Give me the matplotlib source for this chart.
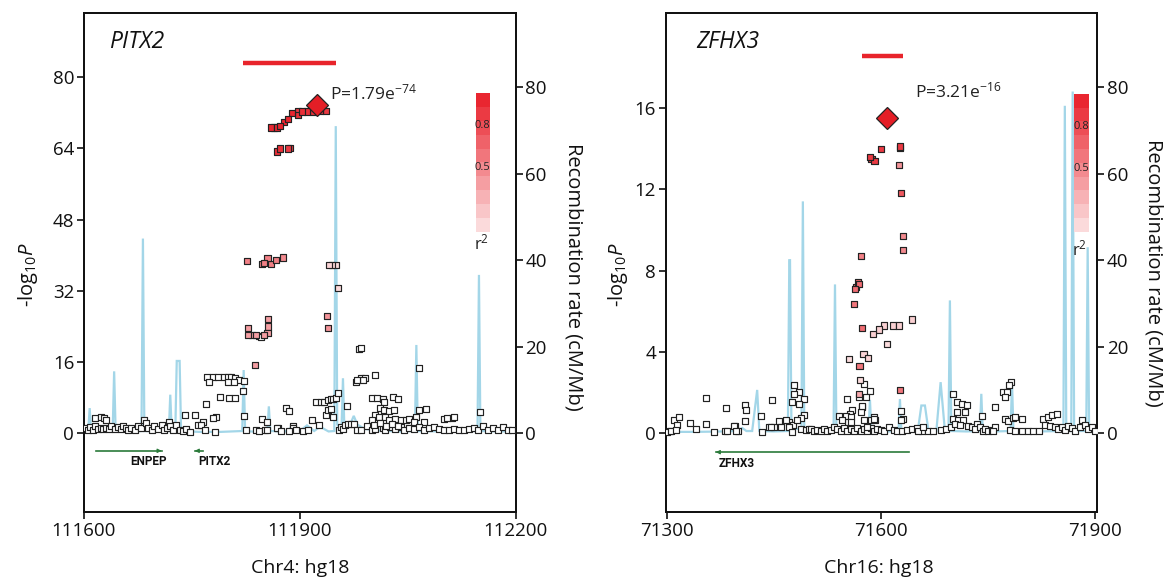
import matplotlib
matplotlib.use('Agg')
import matplotlib.pyplot as plt
import numpy as np

plt.rcParams['font.family'] = ['Open Sans', 'DejaVu Sans']
plt.rcParams['mathtext.fontset'] = 'custom'
plt.rcParams['mathtext.rm'] = 'Open Sans'
plt.rcParams['mathtext.it'] = 'Open Sans:italic'

# ---------------- PITX2 panel (Chr4, kb) ----------------
pitx2_ld_pos = [111860, 111864, 111868, 111873, 111878, 111884, 111889, 111897, 111897, 111903, 111910,
                111918, 111928, 111936,
                111868, 111873, 111884, 111886,
                111827, 111847, 111850, 111855, 111860, 111867, 111877,
                111941, 111945, 111950, 111953,
                111828, 111828, 111834, 111839, 111850, 111855, 111856, 111856, 111838,
                111938, 111939]
pitx2_ld_logp = [68.7, 68.7, 68.7, 69.0, 69.9, 70.6, 72.0, 71.6, 72.4, 72.3, 72.3,
                 72.3, 72.4, 72.4,
                 63.3, 64.0, 64.0, 64.1,
                 38.7, 38.05, 38.3, 39.3, 38.0, 39.0, 39.5,
                 37.8, 37.8, 37.8, 32.7,
                 23.7, 22.1, 22.1, 22.1, 22.1, 22.5, 24.0, 25.7, 15.4,
                 26.4, 23.6]
pitx2_ld_r2 = [0.95, 0.95, 0.95, 0.95, 0.95, 0.95, 0.95, 0.9, 0.85, 0.9, 0.9,
               0.9, 0.9, 0.85,
               0.9, 0.9, 0.85, 0.85,
               0.5, 0.5, 0.5, 0.5, 0.5, 0.5, 0.45,
               0.08, 0.08, 0.05, 0.05,
               0.35, 0.35, 0.35, 0.35, 0.35, 0.35, 0.35, 0.35, 0.35,
               0.4, 0.4]

pitx2_low_pos = [111982, 111985, 112066, 111771, 111779, 111787, 111795, 111800, 111805, 111810, 111816,
                 111823, 111774, 111800, 111808, 111789, 111802, 111810, 111821, 111770, 111784, 111780,
                 111740, 111754, 111766, 111823, 111847, 111855, 111881, 111885, 111891, 111870, 111917,
                 111844, 111846,
                 111923, 111929, 111934, 111939, 111943, 111946, 111951, 111953, 111936, 111939, 111944,
                 111946, 111965, 111978, 111985, 111990, 111988, 112005, 111979,
                 112001, 112008, 112015, 112017, 112029, 112036, 112012, 112017, 112024, 112031, 112005,
                 112010, 112019, 112001, 112024, 112033, 112040, 112047, 112052, 112061, 112066, 112075,
                 112059, 112073, 112100, 112112, 112151,
                 111616, 111624, 111628, 111631,
                 111601, 111606, 111609, 111613, 111616, 111620, 111624, 111627, 111631, 111635, 111638,
                 111643, 111647, 111651, 111654, 111658, 111661, 111666, 111671, 111675, 111680, 111684,
                 111686, 111689, 111694, 111698, 111703, 111708, 111711, 111715, 111718, 111720, 111724,
                 111728, 111733, 111738, 111742, 111747, 111759, 111763, 111768, 111782,
                 111825, 111839, 111844, 111851, 111855, 111869, 111874, 111890, 111927, 111955, 111957,
                 111960, 111963, 111967, 111971, 111976, 111980, 111985, 111994, 111885, 111895, 111905,
                 111912,
                 112001, 112005, 112015, 112019, 112026, 112033, 112040, 112045, 112052, 112059, 112066,
                 112073, 112080, 112087, 112094, 112100, 112107, 112114, 112121, 112128, 112135, 112142,
                 112147, 112154, 112161, 112168, 112175, 112182, 112189, 112195,
                 112003, 112012, 112020, 112028, 112037, 112104, 112114]
pitx2_low_logp = [19.0, 19.2, 14.6, 12.6, 12.6, 12.6, 12.6, 12.6, 12.6, 12.3, 12.0,
                  11.8, 11.4, 11.4, 11.6, 8.2, 7.9, 7.9, 9.5, 6.5, 3.7, 3.4,
                  4.1, 4.1, 2.6, 3.9, 3.1, 2.4, 5.6, 4.9, 1.5, 1.1, 3.0,
                  21.8, 21.6,
                  6.9, 6.9, 7.1, 7.5, 7.7, 7.7, 7.9, 9.0, 4.1, 5.2, 5.4,
                  3.7, 6.2, 11.6, 12.4, 12.4, 12.0, 13.1, 12.0,
                  7.9, 7.9, 7.6, 7.1, 8.2, 7.6, 5.6, 5.2, 4.9, 5.2, 4.1,
                  3.7, 3.6, 3.0, 3.0, 3.1, 3.0, 3.0, 3.1, 3.6, 5.2, 5.5,
                  2.6, 2.6, 3.1, 3.5, 4.7,
                  3.4, 3.6, 3.4, 3.0,
                  1.1, 0.75, 1.35, 0.75, 1.5, 0.9, 1.1, 0.97, 1.27, 0.9, 1.5,
                  0.97, 1.35, 0.9, 1.5, 1.1, 0.75, 1.1, 0.75, 1.5, 1.1, 3.0,
                  2.25, 1.1, 0.75, 1.5, 0.97, 1.87, 0.75, 1.1, 2.6, 1.5, 0.75,
                  1.87, 0.75, 0.52, 0.9, 0.37, 1.87, 1.87, 0.75, 0.37,
                  0.75, 0.75, 0.52, 0.75, 0.75, 1.12, 0.52, 1.27, 1.87, 0.75, 1.35,
                  0.9, 1.87, 2.1, 2.1, 2.1, 0.75, 0.75, 1.5, 0.5, 0.6, 0.4,
                  0.8,
                  0.75, 0.9, 1.1, 0.75, 1.35, 0.9, 1.35, 0.75, 1.1, 0.9, 1.35,
                  0.75, 1.1, 1.35, 0.9, 0.75, 0.6, 0.9, 0.75, 0.6, 0.9, 1.1,
                  0.75, 1.5, 0.75, 1.1, 0.75, 1.35, 0.75, 0.75,
                  1.8, 2.2, 1.6, 2.0, 1.7, 3.4, 3.6]

pitx2_lead_pos = 111924
pitx2_lead_logp = 73.75
pitx2_lead_label = 'P=1.79e$^{\\mathrm{-74}}$'

pitx2_recomb_pos = [111600, 111606, 111608, 111610, 111640, 111642, 111644, 111660, 111680, 111682, 111684,
                    111700, 111718, 111720, 111722, 111727, 111729, 111733, 111735, 111760, 111790,
                    111820, 111822, 111824, 111840, 111855, 111857, 111859, 111880, 111890, 111900,
                    111910, 111920, 111928, 111940, 111948, 111950, 111952, 111958, 111960, 111962,
                    111970, 111975, 111980, 111990, 112010, 112040, 112060, 112062, 112064, 112100,
                    112147, 112149, 112151, 112180, 112200]
pitx2_recomb_rate = [0.5, 0.5, 5.8, 0.5, 0.8, 14.3, 0.8, 0.3, 0.5, 45.0, 0.5,
                     0.5, 0.5, 8.9, 0.5, 0.5, 16.7, 16.7, 0.5, 0.3, 0.3,
                     0.5, 14.6, 0.5, 0.3, 0.5, 6.2, 0.5, 0.4, 1.5, 0.5,
                     1.8, 0.5, 1.5, 0.4, 0.5, 71.0, 2.0, 1.0, 12.7, 1.0,
                     2.0, 4.0, 2.0, 1.0, 0.6, 0.4, 0.5, 20.4, 0.5, 0.4,
                     0.5, 36.6, 0.5, 0.4, 0.5]

pitx2_bar = (111821, 111951, 83.3)
pitx2_genes = [('ENPEP', 111617, 111708, 1, 111690), ('PITX2', 111754, 111765, -1, 111781)]

# ---------------- ZFHX3 panel (Chr16, kb) ----------------
zfhx3_ld_pos = [71600.0, 71584.6, 71587.2, 71591.3, 71626.8, 71626.8, 71625.8, 71628.4, 71630.9, 71630.9,
                71571.9, 71568.3, 71569.3, 71565.2, 71564.2, 71562.6, 71574.4, 71570.3, 71627.3,
                71569.3, 71589.8, 71597.5, 71605.2, 71617.0, 71625.8, 71643.7, 71609.3, 71555.4,
                71575.9, 71582.1, 71570.8]
zfhx3_ld_logp = [14.0, 13.6, 13.5, 13.4, 14.1, 14.05, 13.2, 11.8, 9.7, 9.0,
                 8.7, 7.45, 7.33, 7.2, 7.1, 6.34, 5.19, 3.3, 2.13,
                 1.94, 4.9, 5.1, 5.3, 5.3, 5.3, 5.6, 4.4, 3.66,
                 3.9, 3.7, 2.6]
zfhx3_ld_r2 = [0.85, 0.85, 0.85, 0.85, 0.85, 0.85, 0.4, 0.7, 0.45, 0.45,
               0.5, 0.6, 0.6, 0.6, 0.6, 0.55, 0.6, 0.55, 0.55,
               0.3, 0.1, 0.1, 0.1, 0.1, 0.1, 0.1, 0.04, 0.04,
               0.08, 0.08, 0.04]

zfhx3_low_pos = [71355, 71311, 71318, 71314, 71305, 71333, 71341, 71356, 71384, 71410, 71412, 71410,
                 71433, 71396, 71400, 71448, 71478, 71486, 71479, 71492, 71476, 71485, 71493, 71489,
                 71459, 71472, 71477, 71444, 71451,
                 71301, 71306, 71313, 71366, 71382, 71385, 71394, 71398, 71434, 71446, 71458, 71460,
                 71467, 71471, 71476, 71483, 71488, 71495, 71500,
                 71574, 71573, 71560, 71557, 71551, 71559, 71554, 71628, 71631, 71590, 71592, 71584.6,
                 71576.9, 71569.3, 71552.9, 71580,
                 71502, 71506, 71511, 71516, 71520, 71525, 71530, 71534, 71539, 71544, 71548, 71553,
                 71558, 71562, 71567, 71572, 71576, 71581, 71586, 71590, 71595, 71600, 71604, 71611,
                 71618, 71623, 71630, 71637, 71644, 71651, 71658, 71667, 71674, 71684, 71691, 71698,
                 71541, 71546, 71558, 71574, 71576, 71581, 71586, 71590, 71653, 71660, 71629,
                 71702, 71707, 71714, 71721, 71718, 71707, 71702, 71709, 71716, 71704, 71711, 71723,
                 71728, 71735, 71732, 71739, 71744, 71746, 71751, 71756, 71760, 71758, 71760, 71742,
                 71772, 71777, 71774, 71783, 71780, 71774, 71779, 71786, 71788, 71798, 71781, 71788,
                 71798, 71807, 71814, 71822, 71828, 71835, 71840, 71847, 71830, 71837, 71844, 71849,
                 71854, 71858, 71863, 71868, 71872, 71879, 71882, 71886, 71891, 71896, 71900]
zfhx3_low_logp = [1.74, 0.66, 0.82, 0.43, 0.1, 0.49, 0.21, 0.46, 1.25, 1.41, 1.12, 0.62,
                  0.87, 0.34, 0.1, 1.64, 2.38, 2.05, 1.94, 1.69, 1.52, 1.44, 0.9, 0.76,
                  0.54, 0.54, 0.43, 0.3, 0.3,
                  0.08, 0.13, 0.17, 0.05, 0.1, 0.13, 0.38, 0.1, 0.05, 0.3, 0.59, 0.3,
                  0.66, 0.3, 0.05, 0.63, 0.22, 0.17, 0.22,
                  1.28, 1.03, 1.12, 0.95, 0.87, 0.79, 0.54, 1.07, 0.71, 0.79, 0.66, 2.1,
                  2.4, 1.8, 1.66, 1.77,
                  0.22, 0.13, 0.17, 0.1, 0.22, 0.13, 0.17, 0.3, 0.22, 0.13, 0.26, 0.13,
                  0.22, 0.13, 0.26, 0.13, 0.22, 0.13, 0.26, 0.1, 0.22, 0.17, 0.13, 0.3,
                  0.17, 0.1, 0.13, 0.17, 0.22, 0.26, 0.1, 0.13, 0.1, 0.17, 0.22, 0.3,
                  0.87, 0.63, 0.54, 1.36, 0.63, 0.3, 0.63, 0.71, 0.13, 0.3, 0.66,
                  1.94, 1.53, 1.45, 1.41, 1.04, 1.04, 0.71, 0.66, 0.63, 0.46, 0.43, 0.38,
                  0.3, 0.46, 0.22, 0.3, 0.13, 0.22, 0.13, 0.17, 0.3, 0.13, 1.31, 0.87,
                  2.02, 2.02, 1.77, 2.51, 2.35, 0.71, 0.59, 0.76, 0.79, 0.71, 0.17, 0.13,
                  0.1, 0.1, 0.13, 0.1, 0.71, 0.82, 0.92, 0.95, 0.43, 0.38, 0.3, 0.22,
                  0.3, 0.17, 0.38, 0.26, 0.13, 0.3, 0.66, 0.43, 0.22, 0.3, 0.13]

zfhx3_lead_pos = 71608.7
zfhx3_lead_logp = 15.49
zfhx3_lead_label = 'P=3.21e$^{\\mathrm{-16}}$'

zfhx3_recomb_pos = [71300, 71340, 71380, 71400, 71406, 71412, 71420, 71427, 71430, 71450, 71470, 71472,
                    71473, 71475, 71489, 71491, 71493, 71510, 71534, 71536, 71538, 71560, 71583, 71585,
                    71587, 71610, 71625, 71627, 71629, 71645, 71652, 71657, 71662, 71667, 71678, 71684,
                    71690, 71695, 71697, 71699, 71720, 71739, 71741, 71743, 71760, 71782, 71784, 71786,
                    71820, 71856, 71858, 71860, 71867, 71869, 71871, 71888, 71890, 71892, 71900]
zfhx3_recomb_rate = [0.3, 0.3, 0.4, 0.5, 1.2, 0.5, 0.5, 10.0, 0.5, 0.4, 0.5, 40.0,
                     40.0, 1.0, 1.0, 53.6, 1.0, 0.5, 0.5, 34.4, 0.5, 0.4, 0.5, 7.7,
                     0.5, 0.4, 0.5, 7.9, 0.5, 0.4, 0.5, 6.4, 6.4, 0.5, 0.5, 11.8,
                     0.5, 0.5, 30.7, 0.5, 0.4, 0.5, 9.1, 0.5, 0.4, 0.5, 11.8, 0.5,
                     0.4, 0.5, 75.7, 0.5, 0.5, 79.0, 0.5, 0.5, 43.0, 0.5, 0.5]

zfhx3_bar = (71574, 71631, 18.57)
zfhx3_genes = [('ZFHX3', 71369, 71640, -1, 71373)]

LD_RED = np.array([0.91, 0.11, 0.15])
LINE_BLUE = '#a3d6e8'
GENE_GREEN = '#2b7a3b'


def ld_color(r2):
    a = 0.12 + 0.88 * r2
    return tuple(1 - a * (1 - LD_RED))


def draw_panel(ax, cfg):
    ax2 = ax.twinx()
    ax.set_zorder(ax2.get_zorder() + 1)
    ax.patch.set_visible(False)
    ax2.plot(cfg['rpos'], cfg['rrate'], color=LINE_BLUE, lw=1.6, solid_joinstyle='miter')
    ax2.set_ylim(-18.3, 97.1)
    ax2.set_yticks([0, 20, 40, 60, 80])

    ax.scatter(cfg['lowpos'], cfg['lowlogp'], marker='s', s=24, facecolor='white',
               edgecolor='#222222', linewidth=0.85, zorder=3)
    cols = [ld_color(r) for r in cfg['ldr2']]
    order = np.argsort(cfg['ldr2'])
    ax.scatter(np.array(cfg['ldpos'])[order], np.array(cfg['ldlogp'])[order], marker='s', s=20,
               facecolor=[cols[i] for i in order], edgecolor='#222222', linewidth=0.85, zorder=4)
    ax.plot([cfg['leadpos']], [cfg['leadlogp']], marker='D', ms=11, mfc='#e41e26',
            mec='#222222', mew=0.9, zorder=5)
    ax.text(cfg['ptext'][0], cfg['ptext'][1], cfg['leadlabel'], fontsize=12.5,
            ha='left', va='center', color='#222222')
    b0, b1, by = cfg['bar']
    ax.plot([b0, b1], [by, by], color='#e8242b', lw=3.2, solid_capstyle='butt')

    for name, g0, g1, strand, lx in cfg['genes']:
        ax.plot([g0, g1], [cfg['geney'], cfg['geney']], color=GENE_GREEN, lw=1.2)
        tip = g1 if strand > 0 else g0
        tail = tip - strand * 4
        ax.annotate('', xy=(tip, cfg['geney']), xytext=(tail, cfg['geney']),
                    arrowprops=dict(arrowstyle='-|>', color=GENE_GREEN, lw=0.8,
                                    mutation_scale=6, shrinkA=0, shrinkB=0))
        ax.text(lx, cfg['labely'], name, fontsize=8.5, fontweight='bold', family='Roboto',
                ha=cfg['gene_ha'], va='center', color='#111111')

    ax.text(cfg['titlex'], 0.9425, cfg['title'], transform=ax.transAxes, fontsize=16.5,
            style='italic', ha='left', va='center', color='#111111')

    ax.set_xlim(*cfg['xlim'])
    ax.set_ylim(*cfg['ylim'])
    ax.set_xticks(cfg['xticks'])
    ax.set_xticklabels([str(t) for t in cfg['xticks']])
    ax.set_yticks(cfg['yticks'])

    for a in (ax, ax2):
        for s in a.spines.values():
            s.set_linewidth(1.3)
            s.set_color('#111111')
        a.tick_params(direction='out', length=5, width=1.2, labelsize=13.5, colors='#111111',
                      pad=2)

    # r^2 colour key
    cax = ax.inset_axes(cfg['cbar'])
    steps = np.linspace(0.05, 0.95, 10)
    for i, r in enumerate(steps):
        cax.add_patch(plt.Rectangle((0, i / 10), 1, 0.1, facecolor=ld_color(r), edgecolor='none'))
    cax.set_xlim(0, 1)
    cax.set_ylim(0, 1)
    cax.axis('off')
    cax.text(0.45, 0.764, '0.8', fontsize=8, ha='center', va='center', color='#222222')
    cax.text(0.45, 0.462, '0.5', fontsize=8, ha='center', va='center', color='#222222')
    ax.text(cfg['r2pos'][0], cfg['r2pos'][1], 'r$^{2}$', transform=ax.transAxes, fontsize=12,
            ha='center', va='center', color='#222222')
    return ax2


fig = plt.figure(figsize=(11.64, 5.81), dpi=100)
axL = fig.add_axes([0.0721, 0.1182, 0.3709, 0.859])
axR = fig.add_axes([0.5720, 0.1182, 0.3704, 0.859])

draw_panel(axL, dict(rpos=pitx2_recomb_pos, rrate=pitx2_recomb_rate,
                     lowpos=pitx2_low_pos, lowlogp=pitx2_low_logp,
                     ldpos=pitx2_ld_pos, ldlogp=pitx2_ld_logp, ldr2=pitx2_ld_r2,
                     leadpos=pitx2_lead_pos, leadlogp=pitx2_lead_logp, leadlabel=pitx2_lead_label,
                     ptext=(111942, 76.4), bar=pitx2_bar, genes=pitx2_genes,
                     geney=-3.97, labely=-6.4, gene_ha='center', title='PITX2', titlex=0.058,
                     xlim=(111600, 112200), ylim=(-17.8, 94.4), xticks=[111600, 111900, 112200],
                     yticks=[0, 16, 32, 48, 64, 80], cbar=[0.9076, 0.5623, 0.0331, 0.2774],
                     r2pos=(0.922, 0.5397)))
draw_panel(axR, dict(rpos=zfhx3_recomb_pos, rrate=zfhx3_recomb_rate,
                     lowpos=zfhx3_low_pos, lowlogp=zfhx3_low_logp,
                     ldpos=zfhx3_ld_pos, ldlogp=zfhx3_ld_logp, ldr2=zfhx3_ld_r2,
                     leadpos=zfhx3_lead_pos, leadlogp=zfhx3_lead_logp, leadlabel=zfhx3_lead_label,
                     ptext=(71647.7, 16.83), bar=zfhx3_bar, genes=zfhx3_genes,
                     geney=-0.93, labely=-1.48, gene_ha='left', title='ZFHX3', titlex=0.07,
                     xlim=(71299, 71903), ylim=(-3.89, 20.66), xticks=[71300, 71600, 71900],
                     yticks=[0, 4, 8, 12, 16], cbar=[0.9474, 0.5623, 0.0348, 0.276],
                     r2pos=(0.9606, 0.5277)))

ylab = '-log$_{10}$$\\it{P}$'
fig.text(0.024, 0.5267, ylab, rotation=90, fontsize=14.5, ha='center', va='center', color='#111111')
fig.text(0.5305, 0.5267, ylab, rotation=90, fontsize=14.5, ha='center', va='center', color='#111111')
rlab = 'Recombination rate (cM/Mb)'
fig.text(0.4931, 0.5232, rlab, rotation=270, fontsize=14.5, ha='center', va='center', color='#111111')
fig.text(0.9914, 0.5300, rlab, rotation=270, fontsize=14.5, ha='center', va='center', color='#111111')
fig.text(300 / 1164, 1 - 568 / 581, 'Chr4: hg18', fontsize=14, ha='center', va='center', color='#111111')
fig.text(879 / 1164, 1 - 568 / 581, 'Chr16: hg18', fontsize=14, ha='center', va='center', color='#111111')

fig.savefig('out.png', dpi=100)
